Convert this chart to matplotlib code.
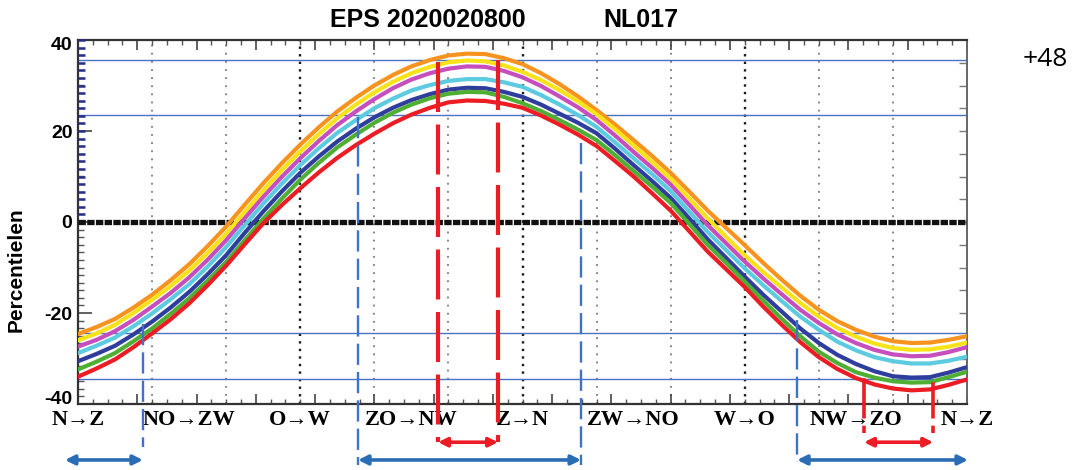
import numpy as np
import matplotlib
matplotlib.use("Agg")
import matplotlib.pyplot as plt
from matplotlib.ticker import MultipleLocator
from matplotlib.transforms import offset_copy

plt.rcParams["axes.unicode_minus"] = False

# wind-direction axis (degrees) at which the percentile curves are sampled
direction = [0, 7.5, 15, 22.5, 30, 37.5, 45, 52.5, 60, 67.5, 75, 82.5, 90, 97.5,
             105, 112.5, 120, 127.5, 135, 142.5, 150, 157.5, 165, 172.5, 180,
             187.5, 195, 202.5, 210, 217.5, 225, 232.5, 240, 247.5, 255, 262.5,
             270, 277.5, 285, 292.5, 300, 307.5, 315, 322.5, 330, 337.5, 345,
             352.5, 360]

p_orange = [-24.6, -23.1, -21.3, -18.8, -16.0, -12.8, -9.3, -5.3, -1.0, 3.8, 8.5, 12.9,
            17.0, 20.8, 24.3, 27.3, 30.0, 32.3, 34.2, 35.6, 36.6, 37.0, 36.9, 36.0,
            34.7, 32.7, 30.3, 27.6, 24.6, 21.4, 18.0, 14.5, 10.8, 6.7, 2.5, -1.3,
            -5.1, -9.0, -12.7, -16.2, -19.3, -21.8, -23.7, -25.2, -26.2, -26.6, -26.5,
            -25.9, -25.1]
p_yellow = [-26.0, -24.5, -22.6, -20.0, -17.1, -14.1, -10.7, -6.8, -2.6, 2.2, 6.9, 11.4,
            15.5, 19.3, 22.8, 25.8, 28.5, 30.8, 32.7, 34.1, 35.1, 35.5, 35.3, 34.4,
            33.0, 31.2, 29.0, 26.5, 23.7, 20.4, 16.8, 13.2, 9.5, 5.2, 0.8, -3.3,
            -7.3, -11.0, -14.4, -17.8, -20.8, -23.3, -25.2, -26.7, -27.7, -28.1, -28.0,
            -27.4, -26.5]
p_magenta = [-27.4, -25.9, -24.0, -21.5, -18.6, -15.6, -12.2, -8.3, -4.0, 0.8, 5.5, 9.9,
             14.0, 17.8, 21.3, 24.3, 27.0, 29.4, 31.3, 32.7, 33.7, 34.2, 34.1, 33.2,
             31.8, 29.9, 27.6, 25.2, 22.4, 19.0, 15.4, 11.9, 8.2, 3.8, -0.7, -4.7,
             -8.7, -12.4, -15.9, -19.3, -22.2, -24.7, -26.6, -28.1, -29.1, -29.5, -29.4,
             -28.6, -27.5]
p_cyan = [-28.8, -27.2, -25.4, -22.9, -20.1, -17.0, -13.7, -9.8, -5.5, -0.7, 4.0, 8.4,
          12.5, 16.2, 19.6, 22.4, 25.0, 27.1, 28.9, 30.1, 31.0, 31.4, 31.4, 30.7,
          29.7, 27.9, 25.8, 23.5, 20.9, 17.5, 14.0, 10.5, 6.8, 2.3, -2.2, -6.2,
          -10.2, -13.9, -17.4, -20.8, -23.7, -26.3, -28.2, -29.7, -30.6, -31.1, -31.1,
          -30.5, -29.6]
p_blue = [-30.6, -29.0, -27.2, -24.7, -21.9, -18.8, -15.4, -11.5, -7.3, -2.4, 2.3, 6.7,
          10.8, 14.4, 17.7, 20.5, 23.0, 25.1, 26.8, 28.1, 29.1, 29.5, 29.4, 28.6,
          27.5, 25.8, 23.8, 21.8, 19.5, 16.1, 12.5, 9.0, 5.3, 0.8, -3.8, -7.9,
          -12.0, -16.0, -19.7, -23.4, -26.6, -29.2, -31.2, -32.8, -33.9, -34.2, -34.1,
          -33.1, -31.9]
p_green = [-32.4, -30.7, -28.8, -26.2, -23.4, -20.2, -16.8, -12.9, -8.8, -4.0, 0.7, 5.1,
           9.3, 13.0, 16.4, 19.2, 21.8, 24.0, 25.8, 27.2, 28.2, 28.6, 28.5, 27.5,
           26.1, 24.4, 22.4, 20.3, 18.0, 14.7, 11.2, 7.8, 4.2, -0.4, -5.0, -9.0,
           -13.1, -17.3, -21.3, -25.1, -28.5, -31.0, -33.0, -34.2, -35.0, -35.3, -35.2,
           -34.1, -32.9]
p_red = [-34.0, -32.2, -30.2, -27.5, -24.5, -21.4, -17.9, -13.9, -9.6, -4.9, -0.3, 3.7,
         7.4, 10.9, 14.1, 16.9, 19.4, 21.7, 23.6, 25.1, 26.3, 26.7, 26.6, 26.0,
         25.1, 23.4, 21.4, 19.2, 16.7, 13.4, 10.0, 6.3, 2.5, -2.0, -6.5, -10.4,
         -14.3, -18.6, -22.6, -26.4, -29.7, -32.3, -34.3, -35.7, -36.6, -37.0, -36.8,
         -35.8, -34.6]

curves = [p_orange, p_yellow, p_magenta, p_cyan, p_blue, p_green, p_red]
curve_colors = ["#f7931e", "#f8e21a", "#c64fbd", "#5ccbe0", "#2f3d9c", "#4fae34", "#ec1c24"]

sector_labels = ["N→Z", "NO→ZW", "O→W", "ZO→NW", "Z→N", "ZW→NO", "W→O", "NW→ZO", "N→Z"]
sector_pos = [0, 45, 90, 135, 180, 225, 270, 315, 360]

ref_levels = [35.6, 23.5, -24.4, -34.5]

# blue dashed sector limits: (direction, top, bottom)
blue_limits = [(26.3, -22.5, -49.5), (113.4, 23.1, -53.4),
               (203.7, 17.4, -53.4), (291.2, -21.5, -52.7)]
# blue span arrows: (start, end)
blue_spans = [(-5.3, 26.3), (113.4, 203.7), (291.2, 360.4)]
# red dashed limits: (direction, top, bottom)
red_limits = [(145.8, 35.2, -48.4), (170.1, 35.6, -48.4)]
red_limits_right = [(318.3, -34.7, -46.4), (346.3, -35.5, -46.4)]
red_spans = [(145.8, 170.1), (318.3, 346.3)]
span_y_red = -48.4
span_y_blue = -52.3

fig = plt.figure(figsize=(10.75, 4.70), dpi=100)
ax = fig.add_axes([78 / 1075, 1 - 404 / 470, (967 - 78) / 1075, (404 - 40) / 470])
ax.set_xlim(0, 360)
ax.set_ylim(-40, 40)

# vertical grid: every 30 deg, darker at the cardinal directions
for gx in range(30, 360, 30):
    if gx % 90 == 0:
        ax.axvline(gx, color="#1a1a1a", lw=1.7, ls=(0, (1.0, 2.2)), zorder=1)
    else:
        ax.axvline(gx, color="#7a7a7a", lw=1.3, ls=(0, (1.0, 3.5)), zorder=1)

for lv in ref_levels:
    ax.axhline(lv, color="#4a72c2", lw=1.0, zorder=2)

ax.axhline(0, color="#111111", lw=3.8, ls=(0, (1.4, 0.25)), zorder=3)

for vals, col in zip(curves, curve_colors):
    ax.plot(direction, vals, color=col, lw=3.0, solid_capstyle="round",
            solid_joinstyle="round", zorder=4)

# sector limits and spans
for xv, top, bot in blue_limits:
    ax.plot([xv, xv], [top, bot], color="#3f73c8", lw=1.7, ls=(0, (9, 3)),
            clip_on=False, zorder=5)
for x0, x1 in blue_spans:
    ax.annotate("", xy=(x1, span_y_blue), xytext=(x0, span_y_blue),
                xycoords="data", annotation_clip=False,
                arrowprops=dict(arrowstyle="<|-|>", color="#2a6db5", lw=2.6,
                                mutation_scale=14, shrinkA=0, shrinkB=0))
for xv, top, bot in red_limits:
    ax.plot([xv, xv], [top, bot], color="#ec1c24", lw=3.0, ls=(0, (12, 3)),
            clip_on=False, zorder=5)
for xv, top, bot in red_limits_right:
    ax.plot([xv, xv], [top, -40], color="#ec1c24", lw=2.6, clip_on=False, zorder=5)
    ax.plot([xv, xv], [-40, bot], color="#ec1c24", lw=2.6, ls=(0, (4, 2)),
            clip_on=False, zorder=5)
for x0, x1 in red_spans:
    ax.annotate("", xy=(x1, span_y_red), xytext=(x0, span_y_red),
                xycoords="data", annotation_clip=False,
                arrowprops=dict(arrowstyle="<|-|>", color="#ec1c24", lw=2.6,
                                mutation_scale=13, shrinkA=0, shrinkB=0))

# axes frame and ticks
for side in ["left", "bottom", "top"]:
    ax.spines[side].set_color("#333333")
    ax.spines[side].set_linewidth(1.6)
ax.spines["right"].set_color("#666666")
ax.spines["right"].set_linewidth(1.4)

ax.xaxis.set_major_locator(MultipleLocator(24))
ax.xaxis.set_minor_locator(MultipleLocator(6))
ax.tick_params(axis="x", which="major", direction="in", length=7, width=1.2,
               top=True, bottom=True, labelbottom=False, color="#444444")
ax.tick_params(axis="x", which="minor", direction="in", length=3.5, width=1.0,
               top=True, bottom=True, color="#555555")

ax.set_yticks([-40, -20, 0, 20, 40])
ax.yaxis.set_minor_locator(MultipleLocator(20 / 12))
ax.tick_params(axis="y", which="major", direction="in", length=10, width=1.2,
               right=False, color="#444444", pad=4)
ax.tick_params(axis="y", which="minor", direction="in", length=4, width=1.0,
               right=False, color="#555555")
for lab in ax.get_yticklabels():
    lab.set_fontweight("bold")
    lab.set_fontsize(14)
    lab.set_family(["Liberation Sans", "DejaVu Sans"])

# keep the end labels inside the frame height
for tick, dy in ((ax.yaxis.get_major_ticks()[0], 6), (ax.yaxis.get_major_ticks()[-1], -3)):
    tick.label1.set_transform(offset_copy(tick.label1.get_transform(), fig=fig,
                                          x=0, y=dy, units="dots"))

# dark-blue minor marks on the upper half of the left axis
upper = np.arange(20 / 12, 40.01, 20 / 12)
ax.plot(np.zeros_like(upper), upper, ls="none", marker=1, ms=5, mew=1.8,
        color="#2b2f8c", clip_on=False, zorder=6)

right = ax.secondary_yaxis("right")
right.set_yticks(np.arange(-35, 40, 5))
right.tick_params(direction="in", length=6, width=1.0, color="#777777", labelright=False)
right.spines["right"].set_visible(False)

ax.set_ylabel("Percentielen", fontsize=15, fontweight="bold",
              family=["Liberation Sans", "DejaVu Sans"])
ax.yaxis.set_label_coords(-0.0585, 0.37)

for pos, lab in zip(sector_pos, sector_labels):
    ax.text(pos, -43.6, lab, ha="center", va="center", fontsize=16, fontweight="bold",
            family=["Liberation Serif", "DejaVu Serif"], clip_on=False)

fig.text(330 / 1075, 1 - 20 / 470, "EPS 2020020800", ha="left", va="center",
         fontsize=18, fontweight="bold", family=["Liberation Sans", "DejaVu Sans"])
fig.text(603 / 1075, 1 - 20 / 470, "NL017", ha="left", va="center",
         fontsize=18, fontweight="bold", family=["Liberation Sans", "DejaVu Sans"])
fig.text(1045 / 1075, 1 - 60 / 470, "+48", ha="center", va="center",
         fontsize=19, family=["Open Sans", "DejaVu Sans"])

fig.savefig("out.png", dpi=100)
